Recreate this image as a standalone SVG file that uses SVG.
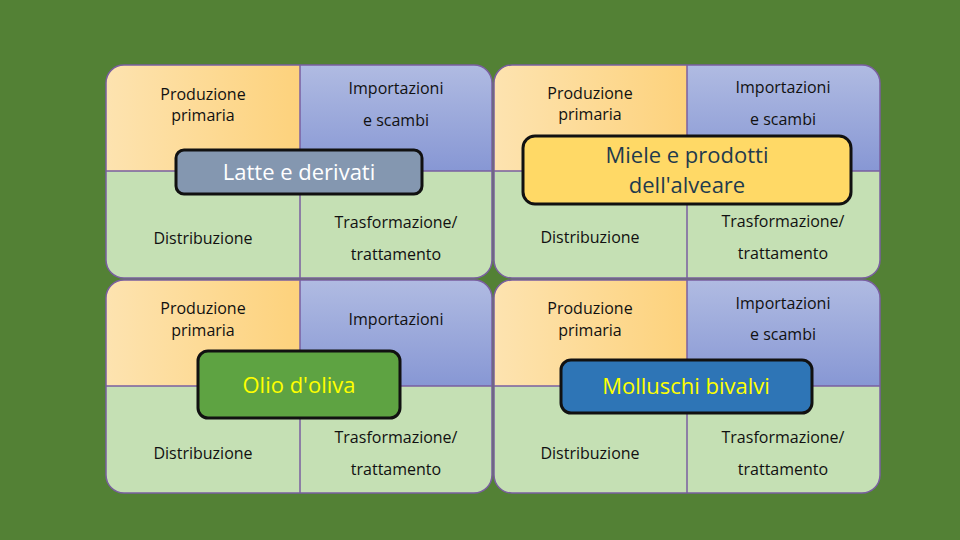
<svg xmlns="http://www.w3.org/2000/svg" width="960" height="540" viewBox="0 0 960 540">
<defs>
<linearGradient id="og" x1="0" x2="1"><stop offset="0" stop-color="#fde3b0"/><stop offset="1" stop-color="#fdd27c"/></linearGradient>
<linearGradient id="bg" x1="0" y1="0" x2="0" y2="1"><stop offset="0" stop-color="#b0bbe2"/><stop offset="1" stop-color="#8797d4"/></linearGradient>
<clipPath id="c1"><rect x="106" y="65" width="386" height="213" rx="18"/></clipPath>
<clipPath id="c2"><rect x="494" y="65" width="386" height="213" rx="18"/></clipPath>
<clipPath id="c3"><rect x="106" y="280" width="386" height="213" rx="18"/></clipPath>
<clipPath id="c4"><rect x="494" y="280" width="386" height="213" rx="18"/></clipPath>
</defs>
<style>
.t{font-family:"Open Sans","Liberation Sans",sans-serif;font-size:16px;fill:#111;text-anchor:middle}
.g{fill:#c5e0b4}
.ln{stroke:#7a5fa0;stroke-width:1.5;fill:none}
.lab{stroke:#111;stroke-width:3}
.lt{font-family:"Open Sans","Liberation Sans",sans-serif;font-size:22px;text-anchor:middle}
</style>
<rect width="960" height="540" fill="#538135"/>
<g id="panel1"><g clip-path="url(#c1)">
<rect x="106" y="65" width="194" height="106" fill="url(#og)"/><rect x="300" y="65" width="192" height="106" fill="url(#bg)"/><rect class="g" x="106" y="171" width="386" height="107"/>
<path class="ln" d="M300 65V278M106 171H492"/></g>
<rect class="ln" x="106" y="65" width="386" height="213" rx="18"/>
<text class="t" x="203" y="100">Produzione</text><text class="t" x="203" y="121">primaria</text>
<text class="t" x="396" y="94">Importazioni</text><text class="t" x="396" y="126">e scambi</text>
<text class="t" x="203" y="244">Distribuzione</text>
<text class="t" x="396" y="228">Trasformazione/</text><text class="t" x="396" y="260">trattamento</text></g>
<g id="panel2"><g clip-path="url(#c2)">
<rect x="494" y="65" width="193" height="106" fill="url(#og)"/><rect x="687" y="65" width="193" height="106" fill="url(#bg)"/><rect class="g" x="494" y="171" width="386" height="107"/>
<path class="ln" d="M687 65V278M494 171H880"/></g>
<rect class="ln" x="494" y="65" width="386" height="213" rx="18"/>
<text class="t" x="590" y="99">Produzione</text><text class="t" x="590" y="120">primaria</text>
<text class="t" x="783" y="93">Importazioni</text><text class="t" x="783" y="125">e scambi</text>
<text class="t" x="590" y="243">Distribuzione</text>
<text class="t" x="783" y="227">Trasformazione/</text><text class="t" x="783" y="259">trattamento</text></g>
<g id="panel3"><g clip-path="url(#c3)">
<rect x="106" y="280" width="194" height="106" fill="url(#og)"/><rect x="300" y="280" width="192" height="106" fill="url(#bg)"/><rect class="g" x="106" y="386" width="386" height="107"/>
<path class="ln" d="M300 280V493M106 386H492"/></g>
<rect class="ln" x="106" y="280" width="386" height="213" rx="18"/>
<text class="t" x="203" y="314">Produzione</text><text class="t" x="203" y="336">primaria</text>
<text class="t" x="396" y="325">Importazioni</text>
<text class="t" x="203" y="459">Distribuzione</text>
<text class="t" x="396" y="443">Trasformazione/</text><text class="t" x="396" y="475">trattamento</text></g>
<g id="panel4"><g clip-path="url(#c4)">
<rect x="494" y="280" width="193" height="106" fill="url(#og)"/><rect x="687" y="280" width="193" height="106" fill="url(#bg)"/><rect class="g" x="494" y="386" width="386" height="107"/>
<path class="ln" d="M687 280V493M494 386H880"/></g>
<rect class="ln" x="494" y="280" width="386" height="213" rx="18"/>
<text class="t" x="590" y="314">Produzione</text><text class="t" x="590" y="336">primaria</text>
<text class="t" x="783" y="309">Importazioni</text><text class="t" x="783" y="340">e scambi</text>
<text class="t" x="590" y="459">Distribuzione</text>
<text class="t" x="783" y="443">Trasformazione/</text><text class="t" x="783" y="475">trattamento</text></g>
<g id="label-latte"><rect class="lab" x="176" y="150" width="246" height="44" rx="8" fill="#8497b0"/><text class="lt" x="299" y="180" fill="#fff">Latte e derivati</text></g>
<g id="label-miele"><rect class="lab" x="523" y="136" width="328" height="68" rx="12" fill="#ffd966"/><text class="lt" x="687" y="163" fill="#1f3b4d">Miele e prodotti</text><text class="lt" x="687" y="193" fill="#1f3b4d">dell'alveare</text></g>
<g id="label-olio"><rect class="lab" x="198" y="351" width="202" height="67" rx="10" fill="#5ea342"/><text class="lt" x="299" y="393" fill="#ffff00">Olio d'oliva</text></g>
<g id="label-molluschi"><rect class="lab" x="561" y="360" width="251" height="53" rx="10" fill="#2e75b6"/><text class="lt" x="686" y="394" fill="#ffff00">Molluschi bivalvi</text></g>
<g id="connectors"/>
</svg>
